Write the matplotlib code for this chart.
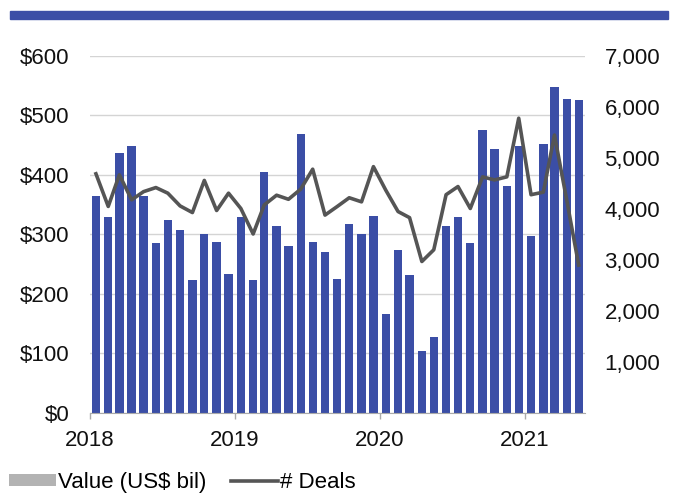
import matplotlib
matplotlib.use("Agg")
import matplotlib.pyplot as plt
import matplotlib.dates as mdates
from matplotlib.patches import Patch, Rectangle
from matplotlib.lines import Line2D
import pandas as pd

plt.rcParams['font.family'] = ['Liberation Sans', 'DejaVu Sans']

# monthly deal value (US$ bil) and number of deals, Jan 2018 - May 2021
months = pd.date_range('2018-01-01', periods=41, freq='MS')
value = [364, 329, 437, 448, 364, 286, 324, 307, 223, 300, 288, 233,
         330, 223, 405, 314, 280, 469, 287, 271, 226, 318, 301, 331,
         166, 274, 232, 104, 127, 314, 330, 286, 475, 444, 381, 448,
         297, 452, 548, 527, 526]
deals = [4690, 4050, 4670, 4180, 4340, 4420, 4310, 4060, 3930, 4560, 3970, 4310,
         4010, 3510, 4080, 4270, 4190, 4390, 4780, 3880, 4050, 4220, 4140, 4830,
         4370, 3950, 3830, 2970, 3200, 4280, 4440, 4010, 4630, 4570, 4630, 5780,
         4280, 4330, 5450, 4170, 2900]
left_ticks = [0, 100, 200, 300, 400, 500, 600]
right_ticks = [1000, 2000, 3000, 4000, 5000, 6000, 7000]

blue = '#3b4ea6'
grey_line = '#555555'
fs = 16

x = months + pd.Timedelta(days=15)

fig = plt.figure(figsize=(6.74, 4.95), dpi=100)
ax = fig.add_axes([0.1335, 0.1657, 0.7345, 0.7212])

ax.bar(x, value, width=21, color=blue, zorder=2)
ax.set_ylim(0, 600)
ax.set_yticks(left_ticks)
ax.set_yticklabels(['$%d' % v for v in left_ticks])
ax.yaxis.grid(True, color='#d4d4d4', linewidth=1)
ax.set_axisbelow(True)
ax.set_xlim(months[0], months[-1] + pd.DateOffset(months=1))
ax.xaxis.set_major_locator(mdates.YearLocator())
ax.xaxis.set_major_formatter(mdates.DateFormatter('%Y'))
for s in ['top', 'left', 'right']:
    ax.spines[s].set_visible(False)
ax.spines['bottom'].set_color('#aaaaaa')
ax.tick_params(axis='y', length=0, pad=15, labelsize=fs, colors='#111111')
ax.tick_params(axis='x', length=4, width=1, color='#aaaaaa', pad=8,
               labelsize=fs, labelcolor='#111111')

ax2 = ax.twinx()
ax2.plot(x, deals, color=grey_line, linewidth=2.6, zorder=3)
ax2.set_ylim(0, 7000)
ax2.set_yticks(right_ticks)
ax2.set_yticklabels(['{:,}'.format(v) for v in right_ticks])
ax2.tick_params(axis='y', length=0, pad=14, labelsize=fs, colors='#111111')
for s in ['top', 'left', 'right', 'bottom']:
    ax2.spines[s].set_visible(False)

# blue band across the top
fig.patches.append(Rectangle((10 / 674, 1 - 19 / 495), 658 / 674, 8 / 495,
                             transform=fig.transFigure, color=blue, zorder=5))

handles = [Patch(facecolor='#b3b3b3', edgecolor='none'),
           Line2D([0], [0], color=grey_line, linewidth=2.6)]
fig.legend(handles, ['Value (US$ bil)', '# Deals'], loc='lower left',
           bbox_to_anchor=(-0.016, -0.036), ncol=2, frameon=False, fontsize=fs,
           handlelength=2.1, handleheight=0.45, handletextpad=0.1,
           columnspacing=1.1)

fig.savefig('out.png', dpi=100)
